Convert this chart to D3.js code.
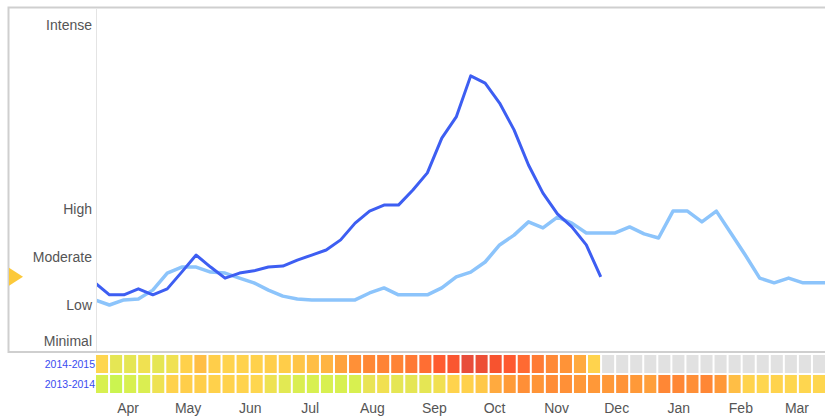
<!DOCTYPE html>
<html>
<head>
<meta charset="utf-8">
<script src="https://cdn.jsdelivr.net/npm/d3@7"></script>
<style>
  body { margin: 0; background: #fff; }
  text { font-family: "Liberation Sans", Arial, sans-serif; }
</style>
</head>
<body>
<div id="chart"></div>
<script>
// Weekly intensity, same units for lines and heat cells
const season2014 = [1.84, 1.46, 1.46, 1.65, 1.46, 1.65, 2.18, 2.72, 2.34, 1.99,
    2.15, 2.22, 2.34, 2.37, 2.56, 2.72, 2.88, 3.20, 3.73, 4.11,
    4.30, 4.30, 4.78, 5.32, 6.42, 7.09, 8.39, 8.16, 7.53, 6.68,
    5.57, 4.68, 4.02, 3.61, 3.04, 2.03];
const season2013 = [1.30, 1.14, 1.30, 1.33, 1.61, 2.15, 2.34, 2.34, 2.18, 2.15,
    1.99, 1.84, 1.61, 1.42, 1.33, 1.30, 1.30, 1.30, 1.30, 1.52,
    1.68, 1.46, 1.46, 1.46, 1.68, 2.03, 2.18, 2.50, 3.04, 3.35,
    3.77, 3.58, 3.92, 3.73, 3.42, 3.42, 3.42, 3.61, 3.39, 3.26,
    4.11, 4.11, 3.77, 4.11, 3.42, 2.72, 1.99, 1.84, 1.99, 1.84,
    1.84, 1.84];
const seasonNames = ["2014-2015", "2013-2014"];
const levelNames = ["Minimal", "Low", "Moderate", "High", "Intense"];
const levelValues = [0, 1.14, 2.66, 4.18, 10];
const monthNames = ["Apr", "May", "Jun", "Jul", "Aug", "Sep", "Oct", "Nov", "Dec", "Jan", "Feb", "Mar"];
const weekCount = 52;

const W = 825, H = 416;
const plot = { left: 96, right: 825, top: 8, bottom: 352 };

const svg = d3.select("#chart").append("svg")
    .attr("width", W)
    .attr("height", H);

// scales
const y = d3.scaleLinear().domain([0, 10]).range([341, 25]);
const x = d3.scaleLinear().domain([0, 51]).range([95, 95 + 51 * 14.45]);
const cell = d3.scaleBand().domain(d3.range(weekCount)).range([plot.left, plot.right]).paddingInner(2 / 14);
const start = new Date(2014, 2, 30);
const t = d3.scaleTime().domain([start, d3.timeDay.offset(start, 364)]).range([plot.left, plot.right]);
const color = d3.scaleLinear()
    .domain([1.1, 1.3, 1.5, 1.7, 1.85, 2.3, 2.7, 3.0, 3.4, 4.2, 5.3, 6.5, 7.8, 8.4])
    .range(["#c8f550", "#d8f050", "#e8e455", "#f2e050", "#ffd54f", "#ffd04a", "#ffbf45",
        "#ffac40", "#ff9838", "#ff8535", "#ff6e33", "#ff5a30", "#f5512f", "#e84d3a"])
    .clamp(true);

// frame
svg.append("rect")
    .attr("x", 8.5).attr("y", 7.5)
    .attr("width", 830).attr("height", plot.bottom - 7.5)
    .attr("fill", "#fff")
    .attr("stroke", "#cfcfcf")
    .attr("stroke-width", 2);

svg.append("line")
    .attr("x1", plot.left + 0.5).attr("x2", plot.left + 0.5)
    .attr("y1", 9).attr("y2", plot.bottom - 1)
    .attr("stroke", "#e4e4e4");

// level labels
svg.append("g").selectAll("text")
    .data(levelNames)
    .enter().append("text")
    .attr("x", 92)
    .attr("y", (d, i) => y(levelValues[i]))
    .attr("dy", "0.35em")
    .attr("text-anchor", "end")
    .attr("font-size", 14)
    .attr("fill", "#555")
    .text(d => d);

// current week marker
const lastY = y(season2014[season2014.length - 1]);
svg.append("path")
    .attr("d", `M9,${lastY - 9}L23,${lastY}L9,${lastY + 9}Z`)
    .attr("fill", "#fcc93a");

// lines
svg.append("clipPath").attr("id", "clip")
    .append("rect")
    .attr("x", plot.left + 1).attr("y", plot.top)
    .attr("width", plot.right - plot.left).attr("height", plot.bottom - plot.top - 2);

const line = d3.line()
    .x((d, i) => x(i))
    .y(d => y(d));

const lines = svg.append("g").attr("clip-path", "url(#clip)");
lines.append("path")
    .datum(season2013)
    .attr("d", line)
    .attr("fill", "none")
    .attr("stroke", "#8cc4fb")
    .attr("stroke-width", 3.5)
    .attr("stroke-linejoin", "round");
lines.append("path")
    .datum(season2014)
    .attr("d", line)
    .attr("fill", "none")
    .attr("stroke", "#3d5ef2")
    .attr("stroke-width", 3)
    .attr("stroke-linejoin", "round");

// heat rows
const rows = [season2014, season2013];
const rowY = [355, 375];
rows.forEach((vals, r) => {
    svg.append("g").selectAll("rect")
        .data(d3.range(weekCount))
        .enter().append("rect")
        .attr("x", i => cell(i))
        .attr("y", rowY[r])
        .attr("width", cell.bandwidth())
        .attr("height", 18)
        .attr("fill", i => i < vals.length ? color(vals[i]) : "#e1e1e1");

    svg.append("text")
        .attr("x", 95)
        .attr("y", rowY[r] + 9)
        .attr("dy", "0.35em")
        .attr("text-anchor", "end")
        .attr("font-size", 10.5)
        .attr("fill", "#3a4cf0")
        .text(seasonNames[r]);
});

// month labels
svg.append("g").selectAll("text")
    .data(monthNames)
    .enter().append("text")
    .attr("x", (d, i) => t(new Date(2014, 3 + i, 15)))
    .attr("y", 408)
    .attr("dy", "0.35em")
    .attr("text-anchor", "middle")
    .attr("font-size", 14)
    .attr("fill", "#555")
    .text(d => d);
</script>
</body>
</html>
